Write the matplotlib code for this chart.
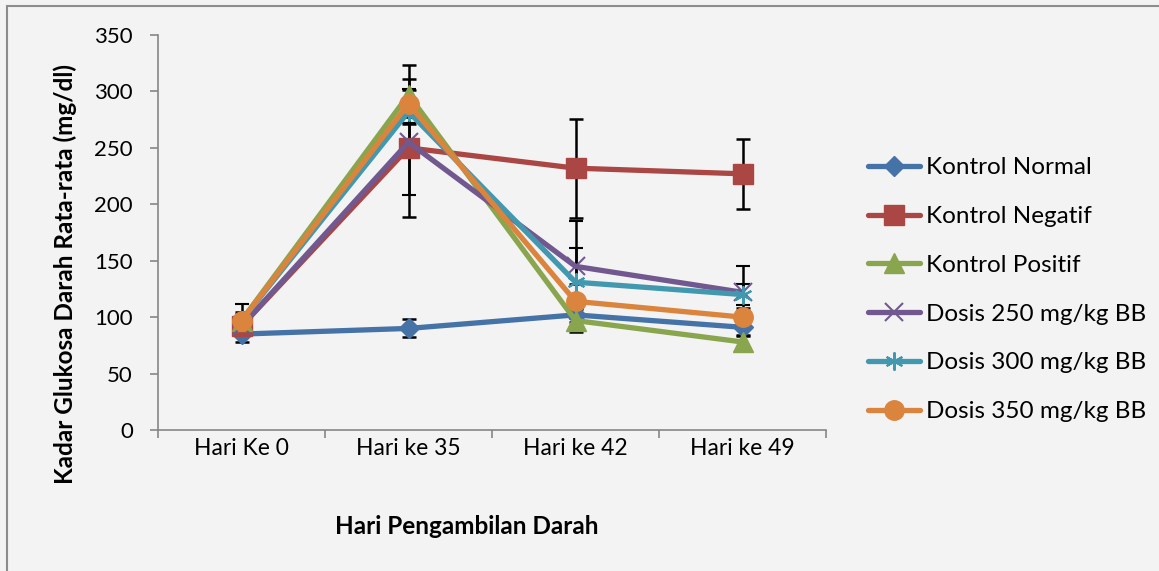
import numpy as np
import matplotlib.pyplot as plt
from matplotlib.lines import Line2D
from matplotlib.patches import Rectangle

plt.rcParams['font.family'] = ['Lato', 'DejaVu Sans']

# data
days = ['Hari Ke 0', 'Hari ke 35', 'Hari ke 42', 'Hari ke 49']

kontrol_normal = [85, 90, 102, 91]
kontrol_negatif = [92, 250, 232, 227]
kontrol_positif = [97, 297, 97, 78]
dosis_250 = [92, 255, 145, 122]
dosis_300 = [97, 282, 131, 120]
dosis_350 = [97, 289, 114, 100]

err_normal = [7, 8, 6, 7]
err_negatif = [8, 61, 44, 31]
err_positif = [8, 26, 10, 5]
err_250 = [8, 47, 40, 23]
err_300 = [15, 10, 30, 9]
err_350 = [6, 12, 15, 8]

labels = ['Kontrol Normal', 'Kontrol Negatif', 'Kontrol Positif',
          'Dosis 250 mg/kg BB', 'Dosis 300 mg/kg BB', 'Dosis 350 mg/kg BB']
series = [kontrol_normal, kontrol_negatif, kontrol_positif, dosis_250, dosis_300, dosis_350]
errors = [err_normal, err_negatif, err_positif, err_250, err_300, err_350]
colors = ['#4572A7', '#AA4643', '#89A54E', '#71588F', '#4198AF', '#DB843D']
markers = ['D', 's', '^', 'x', (6, 2, 0), 'o']
msizes = [10, 14, 14, 13, 13, 14]

bg = '#f3f3f3'
fig = plt.figure(figsize=(11.59, 5.71), dpi=100, facecolor=bg)
ax = fig.add_axes([158/1159, 1 - 430/571, 668/1159, 395/571])
ax.set_facecolor(bg)

x = np.arange(len(days))
handles = []
for vals, err, c, m, ms, lab in zip(series, errors, colors, markers, msizes, labels):
    if m in ('x', (6, 2, 0)):
        mk = dict(marker=m, markersize=ms, markeredgecolor=c, markeredgewidth=1.5)
    else:
        mk = dict(marker=m, markersize=ms, markerfacecolor=c, markeredgecolor=c)
    ax.errorbar(x, vals, yerr=err, color=c, linewidth=3.8, ecolor='black',
                elinewidth=1.8, capsize=5, capthick=1.8, **mk)
    handles.append(Line2D([], [], color=c, linewidth=3.8, solid_capstyle='round', **mk))

ax.set_xlim(-0.5, 3.5)
ax.set_ylim(0, 350)
ax.set_yticks(np.arange(0, 351, 50))
ax.set_xticks(x)
ax.set_xticklabels(days)
ax.set_xticks(np.arange(-0.5, 3.6, 1), minor=True)
ax.tick_params(axis='x', which='major', length=0, pad=6, labelsize=16.5)
ax.tick_params(axis='x', which='minor', length=6, color='#868686', width=1.2)
ax.tick_params(axis='y', length=6, color='#868686', width=1.2, labelsize=16, pad=12)

for s in ['top', 'right']:
    ax.spines[s].set_visible(False)
for s in ['left', 'bottom']:
    ax.spines[s].set_color('#868686')
    ax.spines[s].set_linewidth(1.2)

ax.set_xlabel('Hari Pengambilan Darah', fontsize=17.5, fontweight='bold', va='center')
ax.xaxis.set_label_coords(0.4626, -0.245)
ax.set_ylabel('Kadar Glukosa Darah Rata-rata (mg/dl)', fontsize=17.5, fontweight='bold', va='center')
ax.yaxis.set_label_coords(-0.139, 0.395)

ax.legend(handles, labels, loc='center left', bbox_to_anchor=(1.063, 0.355), frameon=False,
          fontsize=17.5, handlelength=2.15, labelspacing=1.14, handletextpad=0.25,
          borderpad=0, borderaxespad=0)

# outer chart border
fig.patches.append(Rectangle((7/1159, -0.5), 1.5, 1.5 - 6/571, transform=fig.transFigure,
                             fill=False, edgecolor='#8c8c8c', linewidth=1.5))

fig.savefig('out.png', dpi=100, facecolor=bg)
